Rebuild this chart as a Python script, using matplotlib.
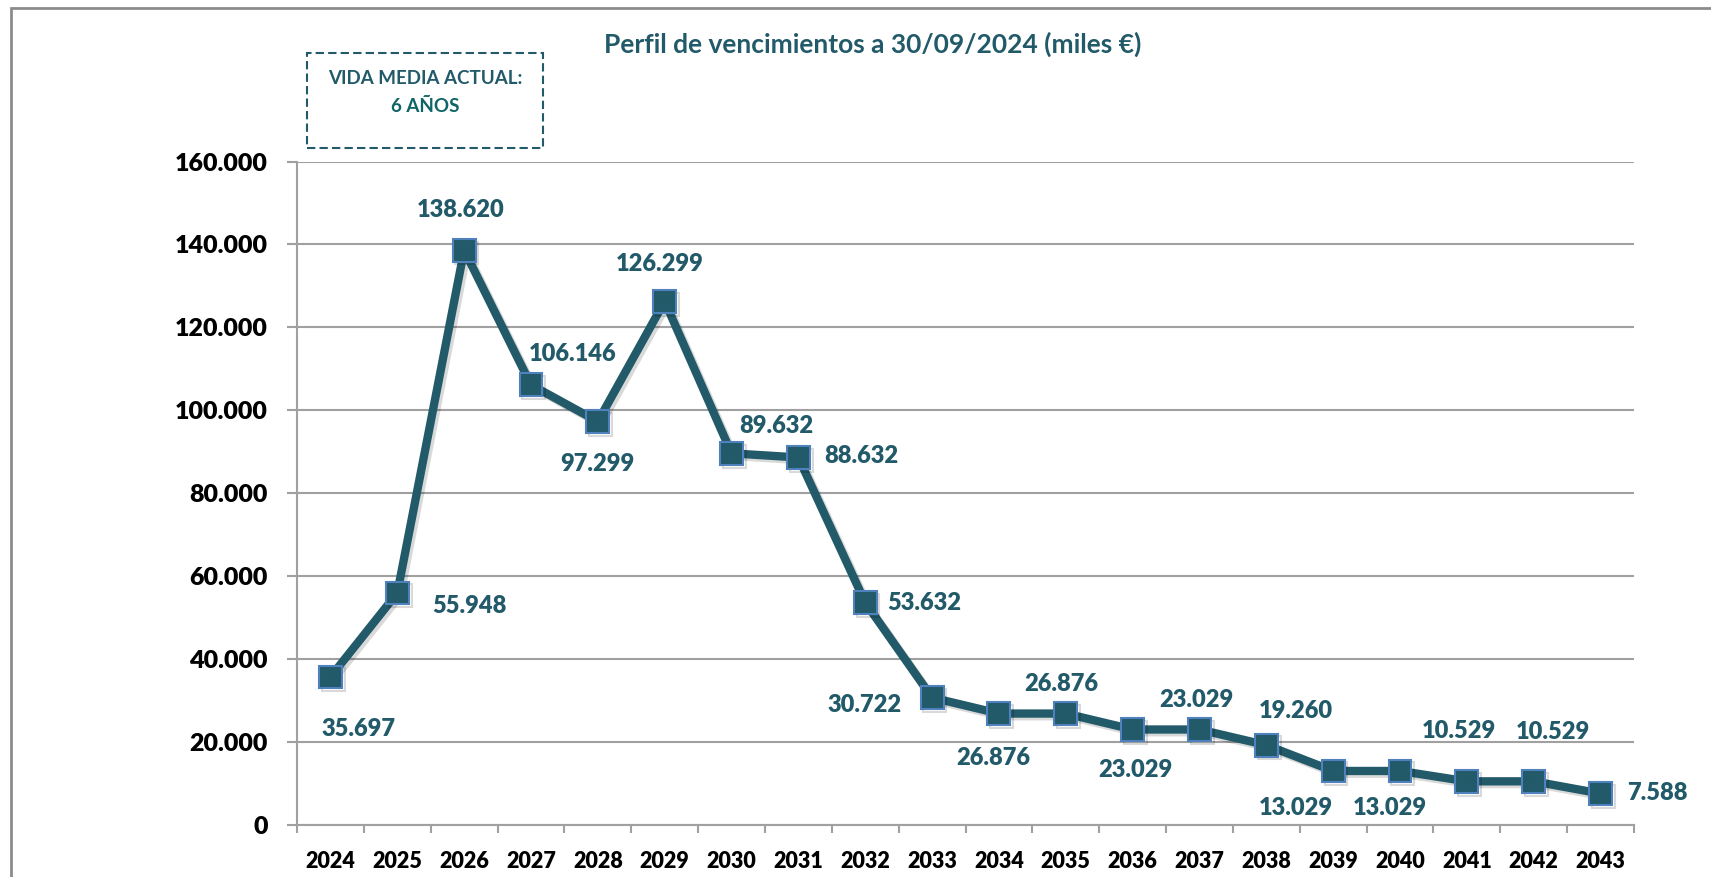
import numpy as np
import matplotlib
matplotlib.use("Agg")
import matplotlib.pyplot as plt
import matplotlib.patheffects as pe
from matplotlib.patches import Rectangle
from matplotlib.ticker import FuncFormatter, FixedLocator

plt.rcParams['font.family'] = ['Lato', 'DejaVu Sans']

years = ['2024', '2025', '2026', '2027', '2028', '2029', '2030', '2031', '2032', '2033',
         '2034', '2035', '2036', '2037', '2038', '2039', '2040', '2041', '2042', '2043']
maturities = [35697, 55948, 138620, 106146, 97299, 126299, 89632, 88632, 53632, 30722,
              26876, 26876, 23029, 23029, 19260, 13029, 13029, 10529, 10529, 7588]
yticks = [0, 20000, 40000, 60000, 80000, 100000, 120000, 140000, 160000]

title = 'Perfil de vencimientos a 30/09/2024 (miles €)'
box_line1 = 'VIDA MEDIA ACTUAL:'
box_line2 = '6 AÑOS'

# label offsets in pixels (dx, dy) relative to each marker
label_offsets = [(28, -52), (72, -13), (-3, 40), (42, 31), (0, -42), (-5, 37), (45, 27),
                 (63, 1), (59, 0), (-68, -7), (-6, -44), (-5, 30), (3, -40), (-3, 30),
                 (30, 34), (-37, -37), (-10, -37), (-8, 50), (19, 49), (57, 1)]

teal = '#225a69'
grid_col = '#a0a0a0'


def miles(v, pos=None):
    return f'{int(round(v)):,}'.replace(',', '.')


fig = plt.figure(figsize=(17.11, 8.77), dpi=100)
ax = fig.add_axes([0.1736, 0.0593, 0.7814, 0.7565])

x = np.arange(len(years))
ax.plot(x, maturities, color=teal, lw=6, marker='s', markersize=16.5,
        markerfacecolor=teal, markeredgecolor='#4f81bd', markeredgewidth=1.5,
        zorder=3, clip_on=False,
        path_effects=[pe.SimpleLineShadow(offset=(2, -2), alpha=0.15), pe.Normal()])

for xi, v, (dx, dy) in zip(x, maturities, label_offsets):
    ax.annotate(miles(v), (xi, v), xytext=(dx, dy), textcoords='offset pixels',
                ha='center', va='center', fontsize=17, fontweight='heavy', color=teal)

ax.set_xlim(-0.5, len(years) - 0.5)
ax.set_ylim(0, 160000)
ax.set_yticks(yticks)
ax.yaxis.set_major_formatter(FuncFormatter(miles))
ax.set_xticks(x)
ax.set_xticklabels(years)
ax.xaxis.set_minor_locator(FixedLocator(np.arange(len(years) + 1) - 0.5))

ax.tick_params(axis='x', which='major', length=0, pad=19, labelsize=15.5)
ax.tick_params(axis='x', which='minor', length=6, width=1.5, color=grid_col, direction='out')
ax.tick_params(axis='y', length=7, width=1.5, color=grid_col, pad=14, labelsize=18)
for lab in ax.get_xticklabels() + ax.get_yticklabels():
    lab.set_fontweight('heavy')

ax.grid(axis='y', color=grid_col, lw=1.5, zorder=0)
ax.set_axisbelow(True)
for s in ['top', 'right']:
    ax.spines[s].set_visible(False)
for s in ['left', 'bottom']:
    ax.spines[s].set_color(grid_col)
    ax.spines[s].set_linewidth(1.5)

fig.text(0.51, 0.95, title, ha='center', va='center', fontsize=19,
         fontweight='bold', color=teal)

fig.patches.append(Rectangle((307 / 1711, 1 - 148 / 877), 236 / 1711, 95 / 877,
                             transform=fig.transFigure, fill=False, edgecolor=teal,
                             lw=1.5, ls=(0, (4, 2))))
fig.text(425 / 1711, 1 - 79 / 877, box_line1, ha='center', va='center', fontsize=13.5,
         fontweight='bold', color=teal)
fig.text(425 / 1711, 1 - 106 / 877, box_line2, ha='center', va='center', fontsize=13.5,
         fontweight='bold', color='#0e6466')

# outer chart border (cropped at right and bottom)
fig.patches.append(Rectangle((11 / 1711, -0.05), 1.1, 1 - 8 / 877 + 0.05,
                             transform=fig.transFigure, fill=False, edgecolor='#8c8c8c',
                             lw=2))

fig.savefig('out.png', dpi=100)
